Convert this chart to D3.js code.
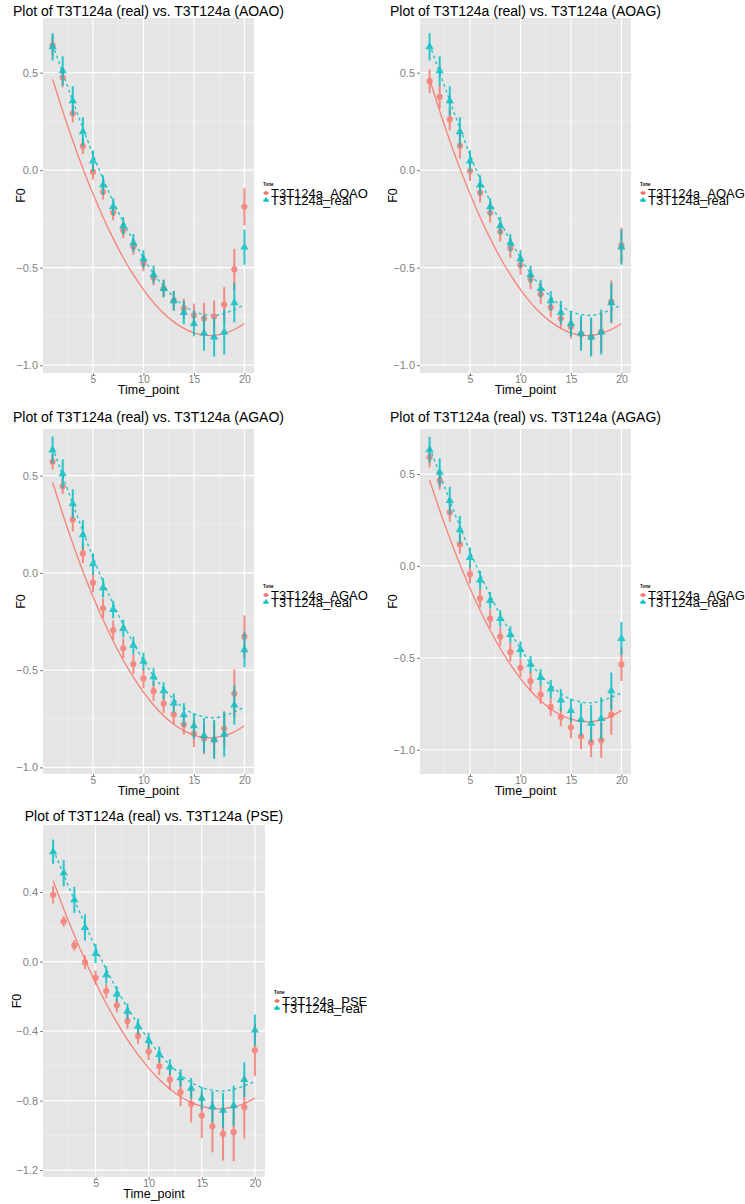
<!DOCTYPE html>
<html lang="en">
<head>
<meta charset="utf-8">
<title>T3T124a F0 plots</title>
<script src="https://cdnjs.cloudflare.com/ajax/libs/d3/7.8.5/d3.min.js"></script>
<style>
  body { margin: 0; background: #fff; }
  svg { display: block; font-family: "Liberation Sans", Arial, sans-serif; }
</style>
</head>
<body>
<svg id="chart" width="745" height="1204"></svg>
<script type="text/javascript">
//////////////////////////////////////
// data

var timePoints = [1, 2, 3, 4, 5, 6, 7, 8, 9, 10, 11, 12, 13, 14, 15, 16, 17, 18, 19, 20];

// the "real" series is the same in every plot
var realMean = [0.632, 0.509, 0.355, 0.196, 0.046, -0.077, -0.188, -0.286, -0.373, -0.455,
                -0.535, -0.607, -0.670, -0.730, -0.787, -0.836, -0.856, -0.830, -0.680, -0.395];
var realErr  = [0.07, 0.075, 0.075, 0.075, 0.055, 0.05, 0.045, 0.045, 0.045, 0.045,
                0.045, 0.045, 0.05, 0.06, 0.065, 0.09, 0.10, 0.115, 0.10, 0.09];

var aoaoMean = [0.640, 0.475, 0.290, 0.123, -0.009, -0.111, -0.217, -0.308, -0.393, -0.479,
                -0.550, -0.607, -0.670, -0.709, -0.744, -0.761, -0.749, -0.689, -0.509, -0.188];
var aoaoErr  = [0.05, 0.05, 0.045, 0.04, 0.04, 0.04, 0.04, 0.04, 0.04, 0.04,
                0.04, 0.045, 0.05, 0.05, 0.06, 0.08, 0.08, 0.09, 0.105, 0.095];

var aoagMean = [0.456, 0.376, 0.260, 0.125, -0.005, -0.116, -0.219, -0.316, -0.400, -0.487,
                -0.560, -0.636, -0.704, -0.761, -0.803, -0.841, -0.855, -0.829, -0.675, -0.385];
var aoagErr  = [0.06, 0.06, 0.055, 0.065, 0.05, 0.05, 0.05, 0.05, 0.05, 0.05,
                0.05, 0.05, 0.05, 0.05, 0.06, 0.08, 0.09, 0.10, 0.11, 0.09];

var agaoMean = [0.571, 0.445, 0.273, 0.100, -0.050, -0.182, -0.294, -0.388, -0.469, -0.543,
                -0.608, -0.672, -0.728, -0.780, -0.826, -0.852, -0.860, -0.800, -0.620, -0.328];
var agaoErr  = [0.04, 0.04, 0.06, 0.05, 0.05, 0.05, 0.05, 0.05, 0.05, 0.05,
                0.05, 0.05, 0.05, 0.05, 0.07, 0.08, 0.09, 0.09, 0.125, 0.11];

var agagMean = [0.591, 0.464, 0.291, 0.118, -0.045, -0.176, -0.287, -0.385, -0.469, -0.554,
                -0.627, -0.700, -0.767, -0.822, -0.878, -0.927, -0.960, -0.949, -0.809, -0.536];
var agagErr  = [0.055, 0.05, 0.05, 0.05, 0.05, 0.05, 0.05, 0.05, 0.05, 0.05,
                0.05, 0.05, 0.05, 0.05, 0.06, 0.07, 0.08, 0.095, 0.11, 0.09];

var pseMean  = [0.384, 0.231, 0.093, -0.004, -0.093, -0.170, -0.252, -0.342, -0.428, -0.517,
                -0.603, -0.680, -0.752, -0.820, -0.886, -0.948, -0.992, -0.982, -0.839, -0.510];
var pseErr   = [0.05, 0.03, 0.03, 0.04, 0.04, 0.04, 0.04, 0.045, 0.045, 0.05,
                0.05, 0.06, 0.08, 0.105, 0.13, 0.15, 0.153, 0.167, 0.18, 0.15];

// fitted curves (same in every plot)
var fitSolid  = [0.466, 0.303, 0.151, 0.009, -0.121, -0.241, -0.350, -0.449, -0.536, -0.613,
                 -0.679, -0.734, -0.778, -0.811, -0.834, -0.846, -0.847, -0.837, -0.817, -0.786];
var fitDashed = [0.645, 0.500, 0.355, 0.215, 0.080, -0.045, -0.160, -0.265, -0.360, -0.450,
                 -0.530, -0.595, -0.650, -0.695, -0.725, -0.740, -0.745, -0.735, -0.715, -0.690];

var xTicks = [5, 10, 15, 20];
var yTicksHalf = [-1.0, -0.5, 0.0, 0.5];
var yTicksPse  = [-1.2, -0.8, -0.4, 0.0, 0.4];

var toneNames = ["AOAO", "AOAG", "AGAO", "AGAG", "PSE"];
var toneMeans = [aoaoMean, aoagMean, agaoMean, agagMean, pseMean];
var toneErrs  = [aoaoErr, aoagErr, agaoErr, agagErr, pseErr];

//////////////////////////////////////
// where each plot sits on the page
var layout = [
  {x0: 43,  x1: 254, y0: 18,  y1: 373,  yDom: [-1.040, 0.780], yTicks: yTicksHalf, titleY: 16,  yLabX: 25,  legX: 263, legY: 184},
  {x0: 420, x1: 631, y0: 18,  y1: 373,  yDom: [-1.040, 0.780], yTicks: yTicksHalf, titleY: 16,  yLabX: 397, legX: 640, legY: 184},
  {x0: 43,  x1: 254, y0: 429, y1: 774,  yDom: [-1.034, 0.740], yTicks: yTicksHalf, titleY: 422, yLabX: 25,  legX: 263, legY: 586},
  {x0: 420, x1: 631, y0: 429, y1: 774,  yDom: [-1.132, 0.745], yTicks: yTicksHalf, titleY: 422, yLabX: 397, legX: 640, legY: 586},
  {x0: 43,  x1: 265, y0: 825, y1: 1177, yDom: [-1.240, 0.786], yTicks: yTicksPse,  titleY: 821, yLabX: 21,  legX: 274, legY: 992}
];

var colRed = "#F8766D", colTeal = "#00BFC4";
var svg = d3.select("#chart");

//////////////////////////////////////
function drawPanel(i) {
  var L = layout[i];
  var g = svg.append("g").attr("class", "plot");

  var x = d3.scaleLinear().domain([0.05, 20.95]).range([L.x0, L.x1]);
  var y = d3.scaleLinear().domain(L.yDom).range([L.y1, L.y0]);

  // panel background
  g.append("rect").attr("x", L.x0).attr("y", L.y0)
    .attr("width", L.x1 - L.x0).attr("height", L.y1 - L.y0).attr("fill", "#E5E5E5");

  // minor grid halfway between the breaks
  var yStep = L.yTicks[1] - L.yTicks[0];
  var yMinor = [L.yTicks[0] - yStep / 2].concat(L.yTicks.map(function(t) { return t + yStep / 2; }))
    .filter(function(v) { return v > L.yDom[0] && v < L.yDom[1]; });
  var xMinor = [2.5, 7.5, 12.5, 17.5];
  g.selectAll(".ymin").data(yMinor).enter().append("line")
    .attr("x1", L.x0).attr("x2", L.x1).attr("y1", y).attr("y2", y)
    .attr("stroke", "#F2F2F2").attr("stroke-width", 0.6);
  g.selectAll(".xmin").data(xMinor).enter().append("line")
    .attr("y1", L.y0).attr("y2", L.y1).attr("x1", x).attr("x2", x)
    .attr("stroke", "#F2F2F2").attr("stroke-width", 0.6);
  // major grid
  g.selectAll(".ymaj").data(L.yTicks).enter().append("line")
    .attr("x1", L.x0).attr("x2", L.x1).attr("y1", y).attr("y2", y)
    .attr("stroke", "#fff").attr("stroke-width", 1.2);
  g.selectAll(".xmaj").data(xTicks).enter().append("line")
    .attr("y1", L.y0).attr("y2", L.y1).attr("x1", x).attr("x2", x)
    .attr("stroke", "#fff").attr("stroke-width", 1.2);

  // axes
  var ax = g.append("g").attr("transform", "translate(0," + L.y1 + ")")
    .call(d3.axisBottom(x).tickValues(xTicks).tickSize(3).tickPadding(0));
  var ay = g.append("g").attr("transform", "translate(" + L.x0 + ",0)")
    .call(d3.axisLeft(y).tickValues(L.yTicks).tickSize(3).tickPadding(2).tickFormat(d3.format(".1f")));
  [ax, ay].forEach(function(a) {
    a.select(".domain").remove();
    a.selectAll("line").attr("stroke", "#7F7F7F");
    a.selectAll("text").attr("fill", "#7F7F7F").style("font-size", "11px")
      .style("font-family", "'Liberation Sans', Arial, sans-serif");
  });
  ax.selectAll("text").style("font-size", "10.5px");

  // fitted curves
  var line = d3.line().curve(d3.curveNatural)
    .x(function(d, k) { return x(timePoints[k]); })
    .y(function(d) { return y(d); });
  g.append("path").datum(fitSolid).attr("d", line)
    .attr("fill", "none").attr("stroke", colRed).attr("stroke-width", 1.3).attr("stroke-opacity", 0.9);
  g.append("path").datum(fitDashed).attr("d", line)
    .attr("fill", "none").attr("stroke", colTeal).attr("stroke-width", 1.3)
    .attr("stroke-dasharray", "3,3").attr("stroke-opacity", 0.9);

  // the tone series (circles) then the real series (triangles)
  var series = [
    {mean: toneMeans[i], err: toneErrs[i], col: colRed, shape: d3.symbolCircle, size: 30},
    {mean: realMean, err: realErr, col: colTeal, shape: d3.symbolTriangle, size: 30}
  ];
  series.forEach(function(s) {
    var pts = timePoints.map(function(t, k) { return {t: t, m: s.mean[k], e: s.err[k]}; });
    var sg = g.append("g").attr("opacity", 0.82);
    sg.selectAll("line").data(pts).enter().append("line")
      .attr("x1", function(d) { return x(d.t); }).attr("x2", function(d) { return x(d.t); })
      .attr("y1", function(d) { return y(d.m - d.e); }).attr("y2", function(d) { return y(d.m + d.e); })
      .attr("stroke", s.col).attr("stroke-width", 2);
    sg.selectAll("path").data(pts).enter().append("path")
      .attr("d", d3.symbol().type(s.shape).size(s.size))
      .attr("transform", function(d) { return "translate(" + x(d.t) + "," + y(d.m) + ")"; })
      .attr("fill", s.col);
  });

  // titles
  var cx = (L.x0 + L.x1) / 2;
  g.append("text").attr("x", cx).attr("y", L.titleY).attr("text-anchor", "middle")
    .style("font-size", "14px").text("Plot of T3T124a (real) vs. T3T124a (" + toneNames[i] + ")");
  g.append("text").attr("x", cx).attr("y", L.y1 + 21).attr("text-anchor", "middle")
    .style("font-size", "12.5px").text("Time_point");
  g.append("text").attr("transform", "translate(" + L.yLabX + "," + ((L.y0 + L.y1) / 2) + ") rotate(-90)")
    .attr("text-anchor", "middle").style("font-size", "12.5px").text("F0");

  // legend
  var lg = g.append("g").attr("transform", "translate(" + L.legX + "," + L.legY + ")");
  lg.append("text").attr("x", 0).attr("y", 2).style("font-size", "4.5px").style("font-weight", "bold").text("Tone");
  var entries = [
    {label: "T3T124a_" + toneNames[i], col: colRed, shape: d3.symbolCircle, dash: null},
    {label: "T3T124a_real", col: colTeal, shape: d3.symbolTriangle, dash: "1.5,1"}
  ];
  entries.forEach(function(e, k) {
    var ky = 9 + k * 7;
    lg.append("line").attr("x1", 0).attr("x2", 6).attr("y1", ky).attr("y2", ky)
      .attr("stroke", e.col).attr("stroke-width", 1).attr("stroke-dasharray", e.dash);
    lg.append("path").attr("d", d3.symbol().type(e.shape).size(14))
      .attr("transform", "translate(3," + ky + ")").attr("fill", e.col);
    lg.append("text").attr("x", 8).attr("y", ky + 5).style("font-size", "13px").text(e.label);
  });
}

for (var i = 0; i < layout.length; i++) drawPanel(i);
</script>
</body>
</html>
